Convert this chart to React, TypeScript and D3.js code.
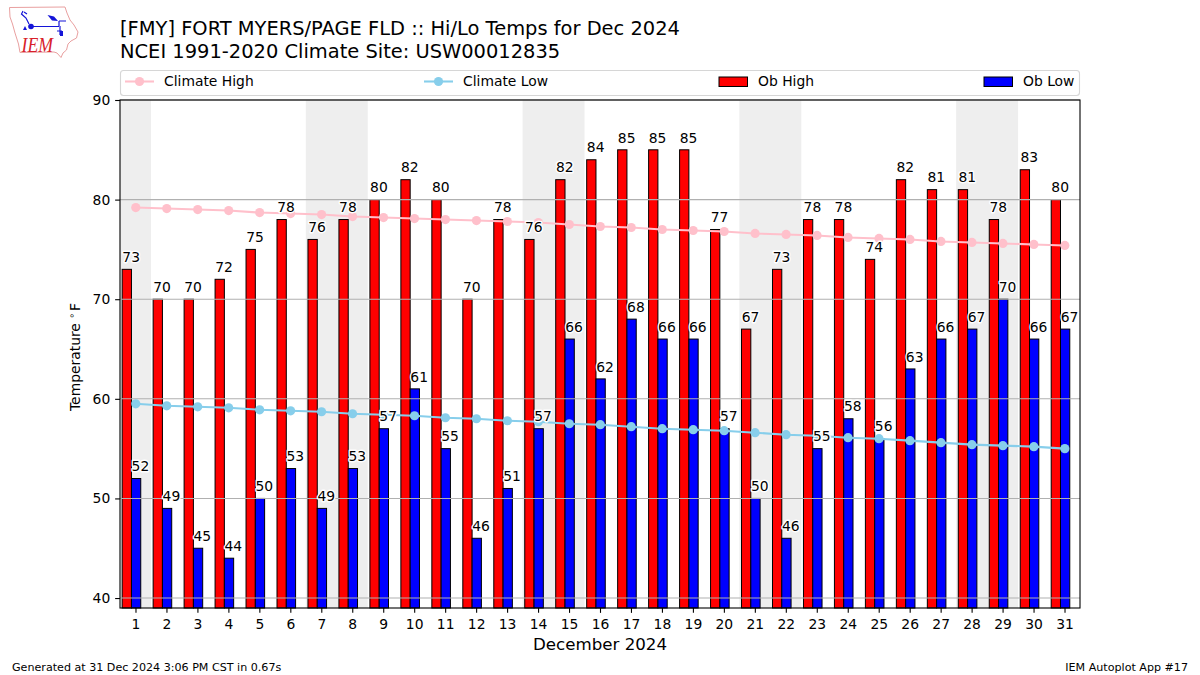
import { useEffect, useRef } from "react";
import * as d3 from "d3";

const days = d3.range(1, 32);
const obHigh = [73, 70, 70, 72, 75, 78, 76, 78, 80, 82, 80, 70, 78, 76, 82, 84, 85, 85, 85, 77, 67, 73, 78, 78, 74, 82, 81, 81, 78, 83, 80];
const obLow = [52, 49, 45, 44, 50, 53, 49, 53, 57, 61, 55, 46, 51, 57, 66, 62, 68, 66, 66, 57, 50, 46, 55, 58, 56, 63, 66, 67, 70, 66, 67];
const climateHigh = [79.2, 79.1, 79.0, 78.9, 78.7, 78.6, 78.5, 78.3, 78.2, 78.1, 78.0, 77.9, 77.8, 77.7, 77.5, 77.3, 77.2, 77.0, 76.9, 76.8, 76.6, 76.5, 76.4, 76.2, 76.1, 76.0, 75.8, 75.7, 75.6, 75.5, 75.4];
const climateLow = [59.5, 59.3, 59.2, 59.1, 58.9, 58.8, 58.7, 58.5, 58.4, 58.3, 58.1, 58.0, 57.8, 57.7, 57.5, 57.4, 57.2, 57.0, 56.9, 56.8, 56.6, 56.4, 56.3, 56.1, 56.0, 55.8, 55.6, 55.4, 55.3, 55.2, 55.0];
const weekends = [[1, 1], [7, 8], [14, 15], [21, 22], [28, 29]];
const yTicks = [40, 50, 60, 70, 80, 90];

const FONT = "'DejaVu Sans', sans-serif";
const IOWA = "M9.5 7.5 L65 7 L67 13 L70 20 L74 25 L78 32 L76.5 38 L71 41 L68 44 L66.5 50 L63 53 L61 57.5 L57 53 L54 52 L20 52.5 L18.5 44 L15 33 L12.5 24 L10 17 Z";

export default function App() {
  const svgRef = useRef<SVGSVGElement>(null);

  useEffect(() => {
    if (!svgRef.current) return;
    const svg = d3.select(svgRef.current);
    svg.selectAll("*").remove();
    svg.attr("font-family", FONT);

    const left = 120, right = 1080, top = 100, bottom = 608;
    const x = d3.scaleLinear().domain([0.5, 31.5]).range([left, right]);
    const y = d3.scaleLinear().domain([39, 90]).range([bottom, top]);
    const barW = x(0.3) - x(0);

    // Logo
    const logo = svg.append("g");
    logo.append("path").attr("d", IOWA).attr("fill", "white").attr("stroke", "#e9a0a0").attr("stroke-width", 1);
    logo.append("path")
      .attr("d", "M31 26.5 H59 M59 21 V26 M59 21 H66 M23 11 L21.5 14 L26 18 L29 24 M24 12 L27 14 M60 26 V35 M57 31 H62")
      .attr("fill", "none").attr("stroke", "#1414d8").attr("stroke-width", 1.2);
    logo.append("circle").attr("cx", 31).attr("cy", 26.5).attr("r", 2.8).attr("fill", "#1414d8");
    logo.append("path").attr("d", "M47.5 15 L54 16.5 L58 21 L52 20.5 Z M23 30 L25 26 L27 30 Z M60 31 L63 31 L63 36 L60 36 Z").attr("fill", "#1414d8");
    logo.append("text").attr("x", 21.5).attr("y", 51.7).attr("font-family", "'Liberation Serif', serif")
      .attr("font-style", "italic").attr("font-size", 22).attr("textLength", 31.5).attr("lengthAdjust", "spacingAndGlyphs")
      .attr("fill", "#d8202a").text("IEM");

    // Titles
    svg.append("text").attr("x", 120).attr("y", 35).attr("font-size", 19.44).text("[FMY] FORT MYERS/PAGE FLD :: Hi/Lo Temps for Dec 2024");
    svg.append("text").attr("x", 120).attr("y", 58).attr("font-size", 19.44).text("NCEI 1991-2020 Climate Site: USW00012835");

    // Weekend shading
    svg.append("g").selectAll("rect").data(weekends).enter().append("rect")
      .attr("x", (d) => x(d[0] - 0.5))
      .attr("width", (d) => x(d[1] + 0.5) - x(d[0] - 0.5))
      .attr("y", top)
      .attr("height", bottom - top)
      .attr("fill", "#eeeeee");

    // Bars
    const drawBars = (values: number[], offset: number, color: string) => {
      svg.append("g").selectAll("rect").data(values).enter().append("rect")
        .attr("x", (_, i) => x(days[i] + offset))
        .attr("width", barW)
        .attr("y", (d) => y(d))
        .attr("height", (d) => y(39) - y(d))
        .attr("fill", color)
        .attr("stroke", "black")
        .attr("stroke-width", 1);
    };
    drawBars(obHigh, -0.43, "#ff0000");
    drawBars(obLow, -0.13, "#0000ff");

    // Grid
    svg.append("g").selectAll("line").data(yTicks).enter().append("line")
      .attr("x1", left).attr("x2", right)
      .attr("y1", (d) => y(d)).attr("y2", (d) => y(d))
      .attr("stroke", "#b0b0b0").attr("stroke-width", 1.1);

    // Climate lines
    const line = d3.line<number>().x((_, i) => x(days[i])).y((d) => y(d));
    const drawClimate = (values: number[], color: string) => {
      svg.append("path").attr("d", line(values) as string).attr("fill", "none").attr("stroke", color).attr("stroke-width", 2.08);
      svg.append("g").selectAll("circle").data(values).enter().append("circle")
        .attr("cx", (_, i) => x(days[i]) + 0.3)
        .attr("cy", (d) => y(d))
        .attr("r", 4.6)
        .attr("fill", color);
    };
    drawClimate(climateHigh, "#ffc0cb");
    drawClimate(climateLow, "#87ceeb");

    // Value labels with white halo
    const drawLabels = (values: number[], offset: number) => {
      svg.append("g").selectAll("text").data(values).enter().append("text")
        .attr("x", (_, i) => x(days[i] + offset) + barW - 0.3)
        .attr("y", (d) => y(d) - 7.3)
        .attr("text-anchor", "middle")
        .attr("font-size", 13.89)
        .attr("fill", "black")
        .attr("stroke", "white")
        .attr("stroke-width", 2.8)
        .attr("stroke-linejoin", "round")
        .attr("paint-order", "stroke")
        .text((d) => d);
    };
    drawLabels(obHigh, -0.43);
    drawLabels(obLow, -0.13);

    // Axes
    const xAxis = d3.axisBottom(x).tickValues(days).tickFormat(d3.format("d")).tickSize(4.86).tickPadding(6);
    const yAxis = d3.axisLeft(y).tickValues(yTicks).tickFormat(d3.format("d")).tickSize(4.86).tickPadding(4.9);
    const gx = svg.append("g").attr("transform", `translate(0,${bottom})`).call(xAxis);
    const gy = svg.append("g").attr("transform", `translate(${left},0)`).call(yAxis);
    [gx, gy].forEach((g) => {
      g.select(".domain").remove();
      g.selectAll("line").attr("stroke", "black").attr("stroke-width", 1.1);
      g.selectAll("text").attr("font-size", 13.89).attr("font-family", FONT).attr("fill", "black");
    });

    svg.append("rect").attr("x", left).attr("y", top).attr("width", right - left).attr("height", bottom - top)
      .attr("fill", "none").attr("stroke", "black").attr("stroke-width", 1.1);

    svg.append("text").attr("x", 600).attr("y", 650).attr("text-anchor", "middle").attr("font-size", 16.67).text("December 2024");

    const yLabel = svg.append("text").attr("transform", `translate(80,411) rotate(-90)`).attr("font-size", 13.89);
    yLabel.append("tspan").text("Temperature");
    yLabel.append("tspan").attr("dx", 4.4).attr("dy", -5).attr("font-size", 9.7).text("∘");
    yLabel.append("tspan").attr("dx", 1.6).attr("dy", 5).text("F");

    // Legend
    svg.append("rect").attr("x", 120.5).attr("y", 70.5).attr("width", 959).attr("height", 25).attr("rx", 3)
      .attr("fill", "white").attr("stroke", "#d6d6d6").attr("stroke-width", 1.1);
    const legendLines = [["Climate High", "#ffc0cb", 125], ["Climate Low", "#87ceeb", 424]] as const;
    legendLines.forEach(([label, color, lx]) => {
      svg.append("line").attr("x1", lx).attr("x2", lx + 29).attr("y1", 81.5).attr("y2", 81.5).attr("stroke", color).attr("stroke-width", 2.08);
      svg.append("circle").attr("cx", lx + 14.5).attr("cy", 81.5).attr("r", 4.6).attr("fill", color);
      svg.append("text").attr("x", lx + 39).attr("y", 86).attr("font-size", 13.89).text(label);
    });
    const legendBars = [["Ob High", "#ff0000", 719], ["Ob Low", "#0000ff", 984]] as const;
    legendBars.forEach(([label, color, lx]) => {
      svg.append("rect").attr("x", lx).attr("y", 77).attr("width", 28.5).attr("height", 9.5).attr("fill", color).attr("stroke", "black").attr("stroke-width", 1);
      svg.append("text").attr("x", lx + 39).attr("y", 86).attr("font-size", 13.89).text(label);
    });

    // Footer
    svg.append("text").attr("x", 12).attr("y", 670.5).attr("font-size", 11.11).text("Generated at 31 Dec 2024 3:06 PM CST in 0.67s");
    svg.append("text").attr("x", 1188).attr("y", 670.5).attr("text-anchor", "end").attr("font-size", 11.11).text("IEM Autoplot App #17");
  }, []);

  return <svg ref={svgRef} width={1200} height={675} style={{ position: "absolute", left: 0, top: 0, background: "white" }} />;
}
